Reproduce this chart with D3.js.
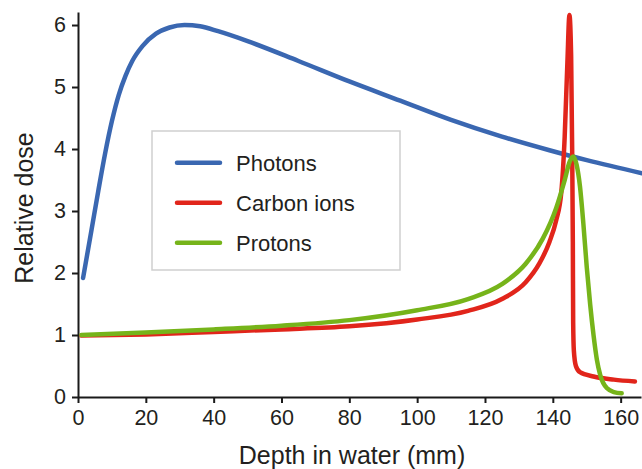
<!DOCTYPE html>
<html>
<head>
<meta charset="utf-8">
<script src="https://cdn.jsdelivr.net/npm/d3@7"></script>
<style>
    body { margin: 0; background: #fff; }
    text { font-family: "Liberation Sans", Arial, Helvetica, sans-serif; fill: #231f20; }
    .axis path, .axis line { stroke: #1a1a1a; stroke-width: 2; }
    .axis text { font-size: 21.5px; }
    .curve { fill: none; stroke-width: 4.5; stroke-linecap: round; stroke-linejoin: round; }
</style>
</head>
<body>
<div id="chart"></div>
<script>

// depth in water (mm) / relative dose
const photonDepth = [1.5, 4, 6, 8, 10, 12, 14, 16, 19, 23, 27, 31.4, 36, 41.3, 50, 65, 80, 95, 110, 125, 139, 150, 166.3];
const photonDose  = [1.92, 2.7, 3.33, 3.93, 4.45, 4.87, 5.18, 5.42, 5.66, 5.86, 5.96, 6.0, 5.98, 5.9, 5.74, 5.42, 5.09, 4.78, 4.47, 4.2, 3.98, 3.82, 3.61];

const carbonDepth = [1, 20, 40, 60, 80, 100, 115, 125, 132, 136, 139, 141, 142.5, 143.5, 144.3, 144.9, 145.4, 145.7, 145.9, 146.0, 146.2, 146.8, 148, 152, 158, 164.2];
const carbonDose  = [0.99, 1.01, 1.05, 1.09, 1.14, 1.25, 1.39, 1.58, 1.85, 2.15, 2.5, 2.85, 3.3, 4.2, 5.4, 6.16, 5.5, 4.0, 2.5, 1.2, 0.75, 0.5, 0.4, 0.33, 0.28, 0.25];

const protonDepth = [1, 20, 40, 60, 80, 100, 115, 125, 132, 137, 141, 143.5, 145, 146, 147, 148, 149, 150, 151, 152, 153, 154, 156, 158, 160.3];
const protonDose  = [1.0, 1.04, 1.09, 1.15, 1.24, 1.4, 1.58, 1.82, 2.15, 2.55, 3.05, 3.5, 3.8, 3.88, 3.75, 3.4, 2.8, 2.1, 1.5, 1.0, 0.6, 0.35, 0.14, 0.08, 0.06];

const seriesNames  = ['Photons', 'Carbon ions', 'Protons'];
const seriesColors = ['#3a67b1', '#e1251b', '#76b41a'];

const xTicks = [0, 20, 40, 60, 80, 100, 120, 140, 160];
const yTicks = [0, 1, 2, 3, 4, 5, 6];

const xTitle = 'Depth in water (mm)';
const yTitle = 'Relative dose';


function createSVG(containerId, width, height) {

    try {

        let svg = d3.select(containerId)
            .append('svg')
            .attr('width', width)
            .attr('height', height)
            .attr('viewBox', '0 0 ' + width + ' ' + height);
        return svg;

    } catch (error) {

        console.log('createSVG. Error: ' + error);
        return null;
    }
}

function drawAxes(svg, x, y) {

    try {

        svg.append('g')
            .attr('class', 'axis')
            .attr('transform', 'translate(0,' + y(0) + ')')
            .call(d3.axisBottom(x).tickValues(xTicks).tickFormat(d3.format('d')).tickSize(6).tickSizeOuter(0).tickPadding(5))
            .call(g => g.selectAll('text').attr('dy', '0.78em'));

        svg.append('g')
            .attr('class', 'axis')
            .attr('transform', 'translate(' + x(0) + ',0)')
            .call(d3.axisLeft(y).tickValues(yTicks).tickFormat(d3.format('d')).tickSize(6).tickSizeOuter(0).tickPadding(6));

        svg.selectAll('.axis text').attr('fill', '#231f20').style('font-size', '21.5px');

        svg.append('text')
            .attr('x', 352)
            .attr('y', 464)
            .attr('text-anchor', 'middle')
            .style('font-size', '25px')
            .text(xTitle);

        svg.append('text')
            .attr('transform', 'translate(33,208) rotate(-90)')
            .attr('text-anchor', 'middle')
            .style('font-size', '25px')
            .text(yTitle);

    } catch (error) {

        console.log('drawAxes. Error: ' + error);
    }
}

function drawCurves(svg, x, y) {

    try {

        let line = d3.line()
            .x(d => x(d[0]))
            .y(d => y(d[1]))
            .curve(d3.curveMonotoneX);

        let series = [
            d3.zip(photonDepth, photonDose),
            d3.zip(carbonDepth, carbonDose),
            d3.zip(protonDepth, protonDose)
        ];

        svg.selectAll('path.curve')
            .data(series).enter()
            .append('path')
            .attr('class', 'curve')
            .attr('d', d => line(d))
            .attr('stroke', (d, i) => seriesColors[i]);

    } catch (error) {

        console.log('drawCurves. Error: ' + error);
    }
}

function drawLegend(svg) {

    try {

        let legend = svg.append('g');

        legend.append('rect')
            .attr('x', 152)
            .attr('y', 131)
            .attr('width', 248)
            .attr('height', 139)
            .attr('fill', '#fff')
            .attr('stroke', '#cfcfcf')
            .attr('stroke-width', 1.5);

        let rows = legend.selectAll('g.row')
            .data(seriesNames).enter()
            .append('g')
            .attr('transform', (d, i) => 'translate(0,' + (162.7 + i * 40) + ')');

        rows.append('line')
            .attr('x1', 177)
            .attr('x2', 220)
            .attr('stroke', (d, i) => seriesColors[i])
            .attr('stroke-width', 4.5)
            .attr('stroke-linecap', 'round');

        rows.append('text')
            .attr('x', 236)
            .attr('dy', '0.36em')
            .style('font-size', '22px')
            .text(d => d);

    } catch (error) {

        console.log('drawLegend. Error: ' + error);
    }
}

let svg = createSVG('#chart', 642, 469);

let x = d3.scaleLinear().domain([0, 166]).range([78, 641]);
let y = d3.scaleLinear().domain([0, 6.21]).range([397, 12]);

drawAxes(svg, x, y);
drawCurves(svg, x, y);
drawLegend(svg);

</script>
</body>
</html>
